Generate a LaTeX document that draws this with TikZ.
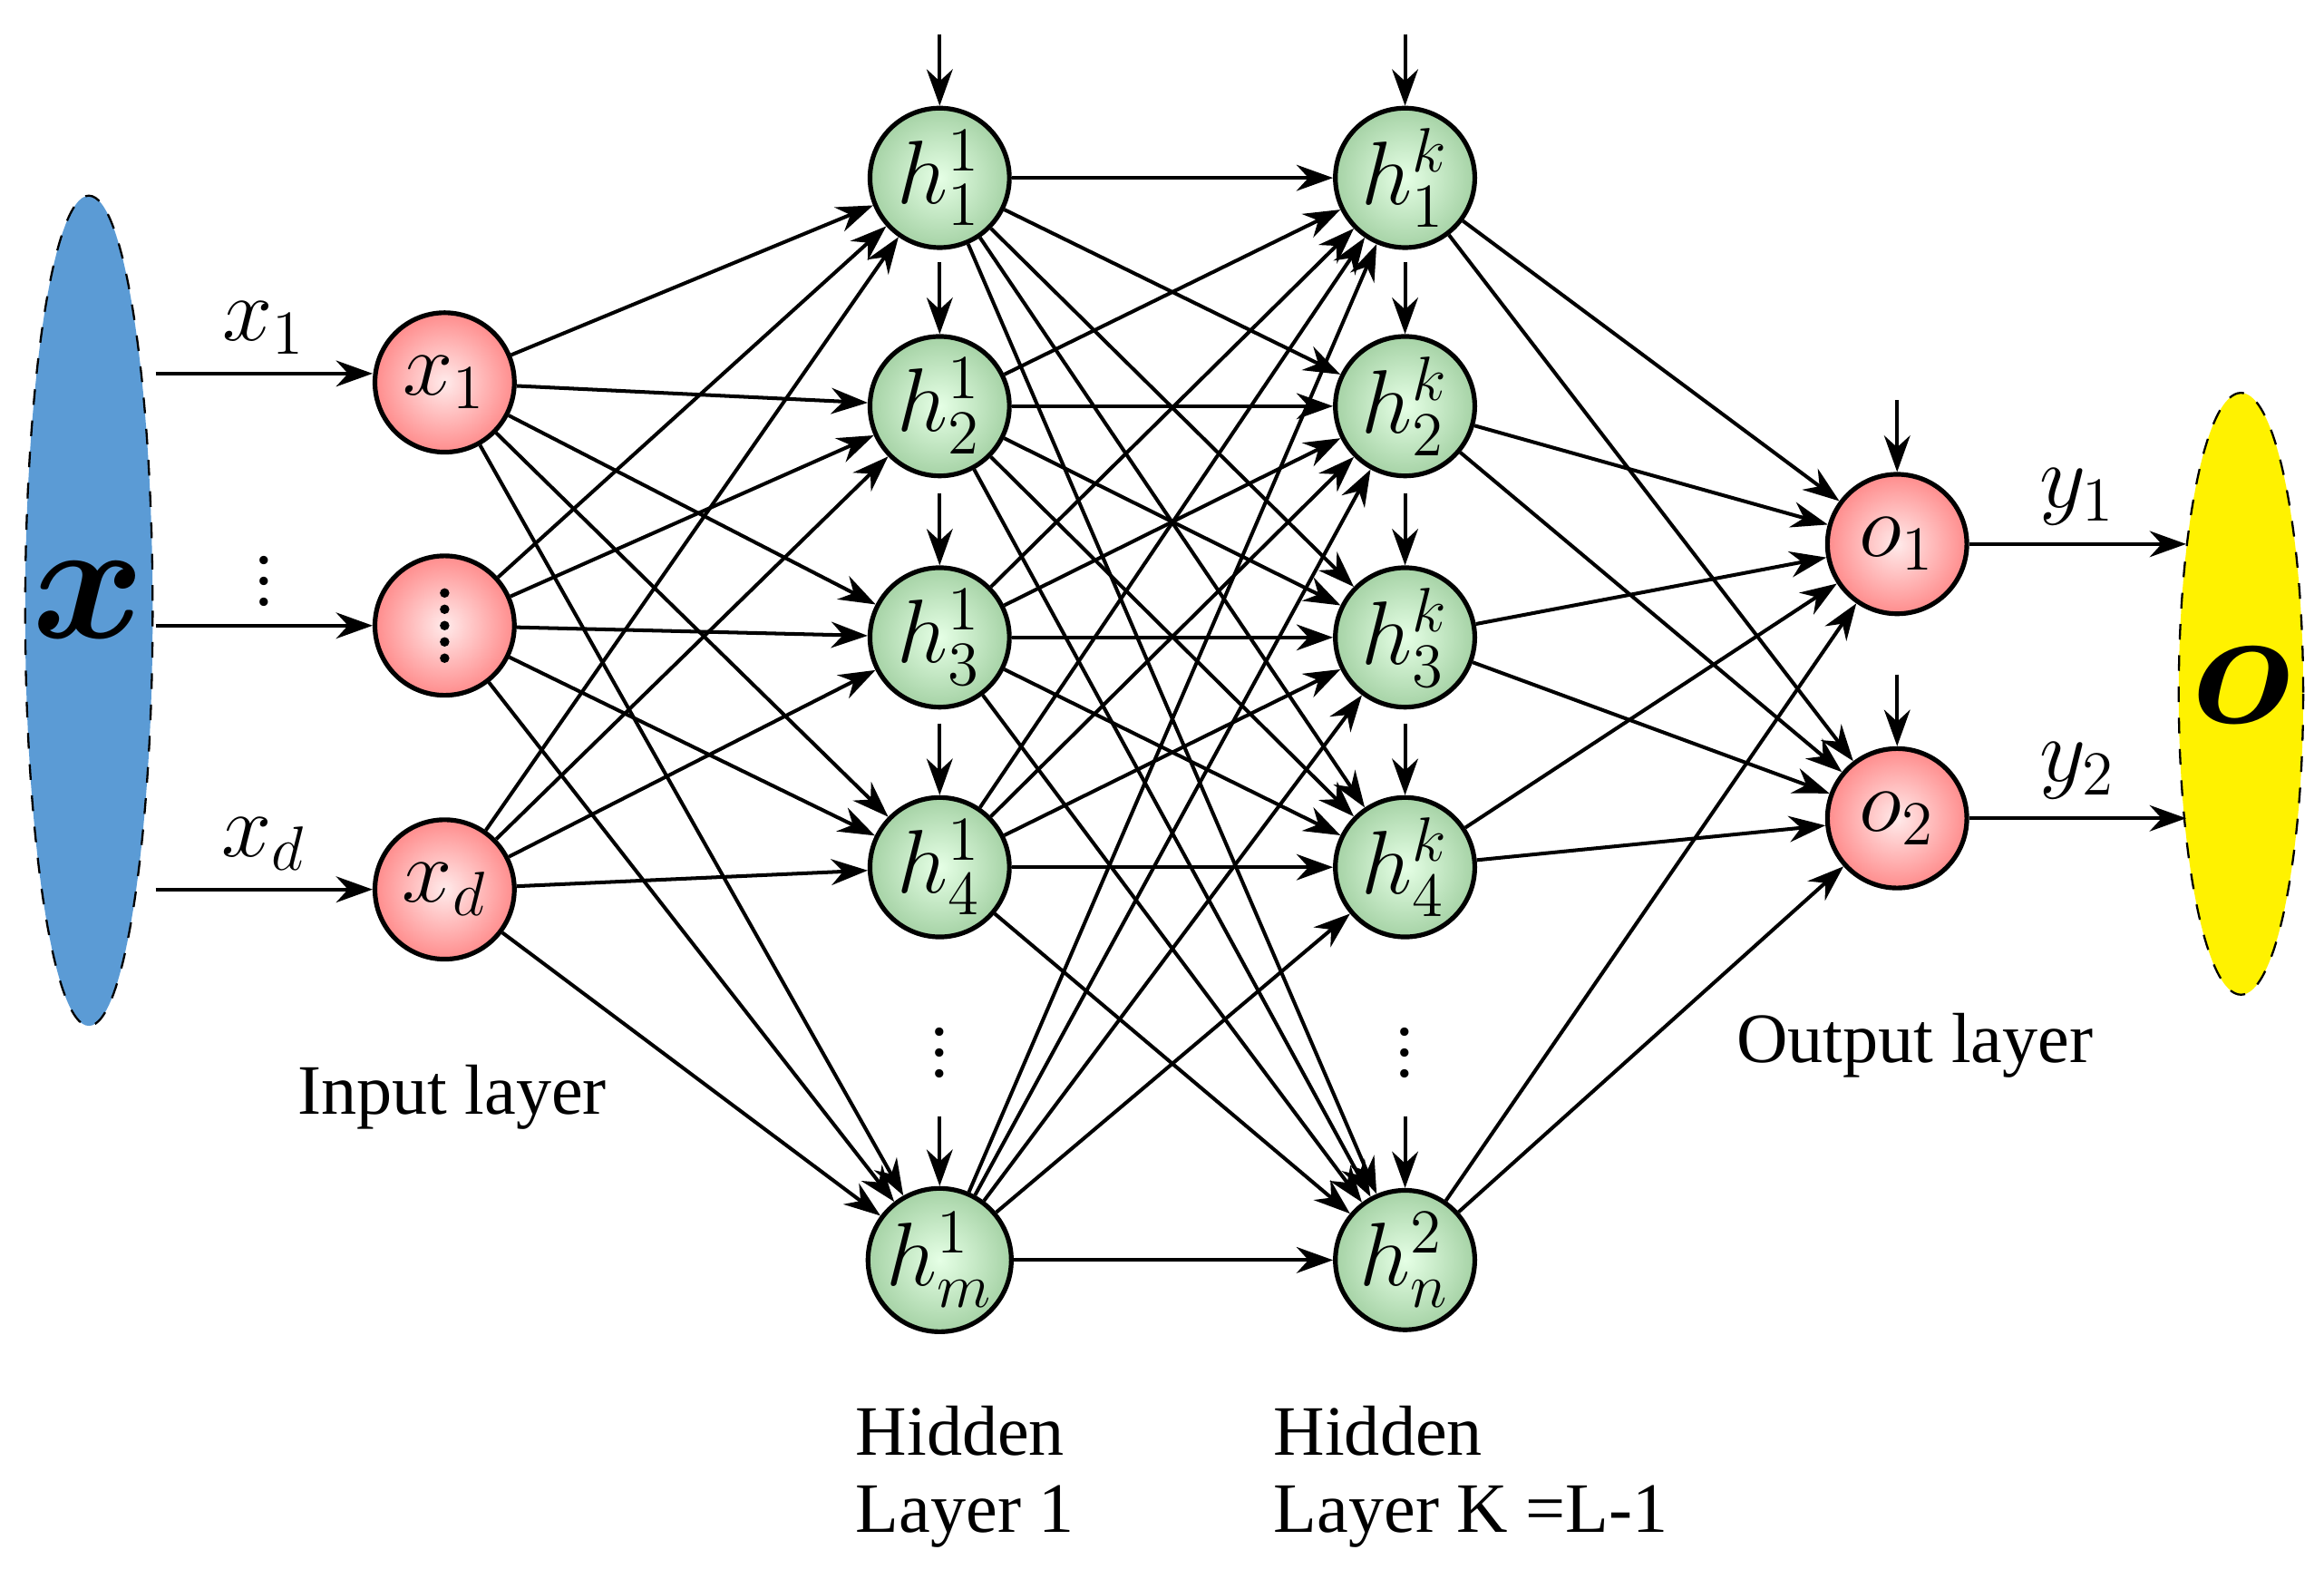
\documentclass[tikz,border=0pt]{standalone}
\usepackage{bm}
\usepackage{fontspec}
\setmainfont{Liberation Serif}
\usetikzlibrary{arrows.meta}
\begin{document}
\begin{tikzpicture}[x=0.01cm,y=-0.01cm,
  every node/.style={font=\fontsize{17}{19}\selectfont},
  neu/.style={circle,draw=black,line width=0.9pt,minimum size=0.94cm,inner sep=0pt},
  red/.style={neu,inner color=red!8,outer color=red!45!white},
  grn/.style={neu,inner color=green!10!white,outer color=green!50!black!35!white},
  arr/.style={-{Stealth[length=7pt,width=5pt]},line width=0.7pt},
  lbl/.style={font=\fontsize{13.6}{16}\selectfont},
  mlb/.style={font=\fontsize{17}{19}\selectfont}]
\useasboundingbox (0,0) rectangle (1568,1065);
% ellipses
\draw[dashed,fill={rgb,255:red,91;green,155;blue,213}] (60,412) ellipse [x radius=43,y radius=280];
\draw[dashed,fill=yellow] (1512,468) ellipse [x radius=42,y radius=203];
\node (X) at (60,405) {\scalebox{1.9}{$\bm{x}$}};
\node (O) at (1512,462) {\scalebox{1.9}{$\bm{o}$}};
% input
\node[red] (i1) at (300,258) {$x_1$};
\node[red] (i2) at (300,422) {};
\foreach \k in {-2,...,2}\fill (300,422+\k*11) circle [radius=3.2];
\node[red] (i3) at (300,600) {$x_d$};
\coordinate (s1) at (105,252);\coordinate (s2) at (105,422);\coordinate (s3) at (105,600);
\draw[arr] (s1) -- (i1.west|-s1) node[midway,above,mlb] {$x_1$};
\draw[arr] (s2) -- (i2.west|-s2) node[midway,above,lbl] {$\vdots$};
\draw[arr] (s3) -- (i3.west|-s3) node[midway,above,mlb] {$x_d$};
% hidden
\foreach \n/\y/\l in {1/120/1,2/274/2,3/430/3,4/585/4,5/850/m}{
  \node[grn] (a\n) at (634,\y) {$h^{1}_{\l}$};
  \coordinate (ba\n) at (634,\y-97);
  \draw[arr] (ba\n) -- (a\n.north);
}
\foreach \n/\y/\l/\s in {1/120/1/k,2/274/2/k,3/430/3/k,4/585/4/k,5/850/n/2}{
  \node[grn] (b\n) at (948,\y) {$h^{\s}_{\l}$};
  \coordinate (bb\n) at (948,\y-97);
  \draw[arr] (bb\n) -- (b\n.north);
}
\node[lbl] (d1) at (634,700) {$\vdots$};
\node[lbl] (d2) at (948,700) {$\vdots$};
% output
\node[red] (o1) at (1280,367) {$o_1$};
\node[red] (o2) at (1280,552) {$o_2$};
\coordinate (bo1) at (1280,270);\coordinate (bo2) at (1280,455);
\draw[arr] (bo1) -- (o1.north);\draw[arr] (bo2) -- (o2.north);
\coordinate (e1) at (1475,367);\coordinate (e2) at (1475,552);
\draw[arr] (o1) -- (e1) node[midway,above,mlb] {$y_1$};
\draw[arr] (o2) -- (e2) node[midway,above,mlb] {$y_2$};
% connections
\foreach \i in {1,2,3}\foreach \j in {1,...,5}\draw[arr] (i\i) -- (a\j);
\foreach \i in {1,...,5}\foreach \j in {1,...,5}\draw[arr] (a\i) -- (b\j);
\foreach \i in {1,...,5}\foreach \j in {1,2}\draw[arr] (b\i) -- (o\j);
% labels
\node[lbl] (t1) at (305,740) {Input layer};
\node[lbl,anchor=west] (t2a) at (565,965) {Hidden};
\node[lbl,anchor=west] (t2b) at (565,1023) {Layer 1};
\node[lbl,anchor=west] (t3a) at (847,965) {Hidden};
\node[lbl,anchor=west] (t3b) at (847,1023) {Layer K =L-1};
\node[lbl] (t4) at (1292,705) {Output layer};
\end{tikzpicture}
\end{document}
